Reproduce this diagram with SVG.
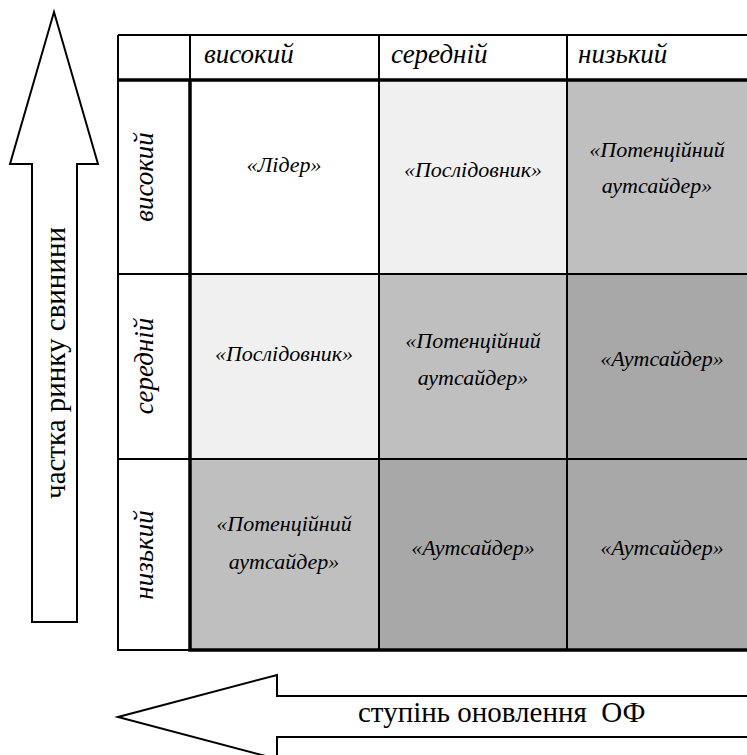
<svg xmlns="http://www.w3.org/2000/svg" width="747" height="755" viewBox="0 0 747 755">
<rect width="747" height="755" fill="#fff"/>
<g id="cells">
  <g id="c11"><rect fill="#ffffff" x="190" y="80" width="189" height="194"/><text font-family="Liberation Serif" font-style="italic" font-size="22" text-anchor="middle" x="284" y="172">«Лідер»</text></g>
  <g id="c12"><rect fill="#f0f0f0" x="379" y="80" width="188" height="194"/><text font-family="Liberation Serif" font-style="italic" font-size="22" text-anchor="middle" x="473" y="177">«Послідовник»</text></g>
  <g id="c13"><rect fill="#bfbfbf" x="567" y="80" width="190" height="194"/><text font-family="Liberation Serif" font-style="italic" font-size="22" text-anchor="middle" x="657" y="157">«Потенційний</text><text font-family="Liberation Serif" font-style="italic" font-size="22" text-anchor="middle" x="657" y="193">аутсайдер»</text></g>
  <g id="c21"><rect fill="#f0f0f0" x="190" y="274" width="189" height="185"/><text font-family="Liberation Serif" font-style="italic" font-size="22" text-anchor="middle" x="284" y="361">«Послідовник»</text></g>
  <g id="c22"><rect fill="#bfbfbf" x="379" y="274" width="188" height="185"/><text font-family="Liberation Serif" font-style="italic" font-size="22" text-anchor="middle" x="473" y="348">«Потенційний</text><text font-family="Liberation Serif" font-style="italic" font-size="22" text-anchor="middle" x="473" y="385">аутсайдер»</text></g>
  <g id="c23"><rect fill="#a8a8a8" x="567" y="274" width="190" height="185"/><text font-family="Liberation Serif" font-style="italic" font-size="22" text-anchor="middle" x="662" y="366">«Аутсайдер»</text></g>
  <g id="c31"><rect fill="#bfbfbf" x="190" y="459" width="189" height="191"/><text font-family="Liberation Serif" font-style="italic" font-size="22" text-anchor="middle" x="284" y="531">«Потенційний</text><text font-family="Liberation Serif" font-style="italic" font-size="22" text-anchor="middle" x="284" y="569">аутсайдер»</text></g>
  <g id="c32"><rect fill="#a8a8a8" x="379" y="459" width="188" height="191"/><text font-family="Liberation Serif" font-style="italic" font-size="22" text-anchor="middle" x="473" y="555">«Аутсайдер»</text></g>
  <g id="c33"><rect fill="#a8a8a8" x="567" y="459" width="190" height="191"/><text font-family="Liberation Serif" font-style="italic" font-size="22" text-anchor="middle" x="662" y="555">«Аутсайдер»</text></g>
</g>
<g id="grid" fill="none" stroke="#000">
  <path stroke-width="2" d="M118 35H757M118 35V650H190M379 35V650M567 35V650M190 274H757M190 459H757M190 35V80M118 274H190M118 459H190"/>
  <path stroke-width="3.5" d="M118 80H757M190 80V651.5M188.5 650H757"/>
</g>
<g id="col-headers">
  <g id="h-col1"><text font-family="Liberation Serif" font-style="italic" font-size="27" x="204" y="63">високий</text></g>
  <g id="h-col2"><text font-family="Liberation Serif" font-style="italic" font-size="27" x="391" y="63">середній</text></g>
  <g id="h-col3"><text font-family="Liberation Serif" font-style="italic" font-size="27" x="578" y="63">низький</text></g>
</g>
<g id="row-headers">
  <g id="h-row1"><text font-family="Liberation Serif" font-style="italic" font-size="27" text-anchor="middle" transform="translate(153 177) rotate(-90)">високий</text></g>
  <g id="h-row2"><text font-family="Liberation Serif" font-style="italic" font-size="27" text-anchor="middle" transform="translate(153 366) rotate(-90)">середній</text></g>
  <g id="h-row3"><text font-family="Liberation Serif" font-style="italic" font-size="27" text-anchor="middle" transform="translate(153 555) rotate(-90)">низький</text></g>
</g>
<g id="connectors" fill="#fff" stroke="#000" stroke-width="2">
  <g id="axis-y">
    <polygon points="54,12 98,164 77,164 77,622 32,622 32,164 10,164"/>
    <text font-family="Liberation Serif" font-size="29" fill="#000" stroke="none" text-anchor="middle" transform="translate(65 363) rotate(-90)">частка ринку свинини</text>
  </g>
  <g id="axis-x">
    <polygon points="118,717 277,675 277,696 760,696 760,737 277,737 277,759"/>
    <text font-family="Liberation Serif" font-size="29" fill="#000" stroke="none" x="358" y="722" xml:space="preserve" style="white-space:pre">ступінь оновлення  ОФ</text>
  </g>
</g>
</svg>
